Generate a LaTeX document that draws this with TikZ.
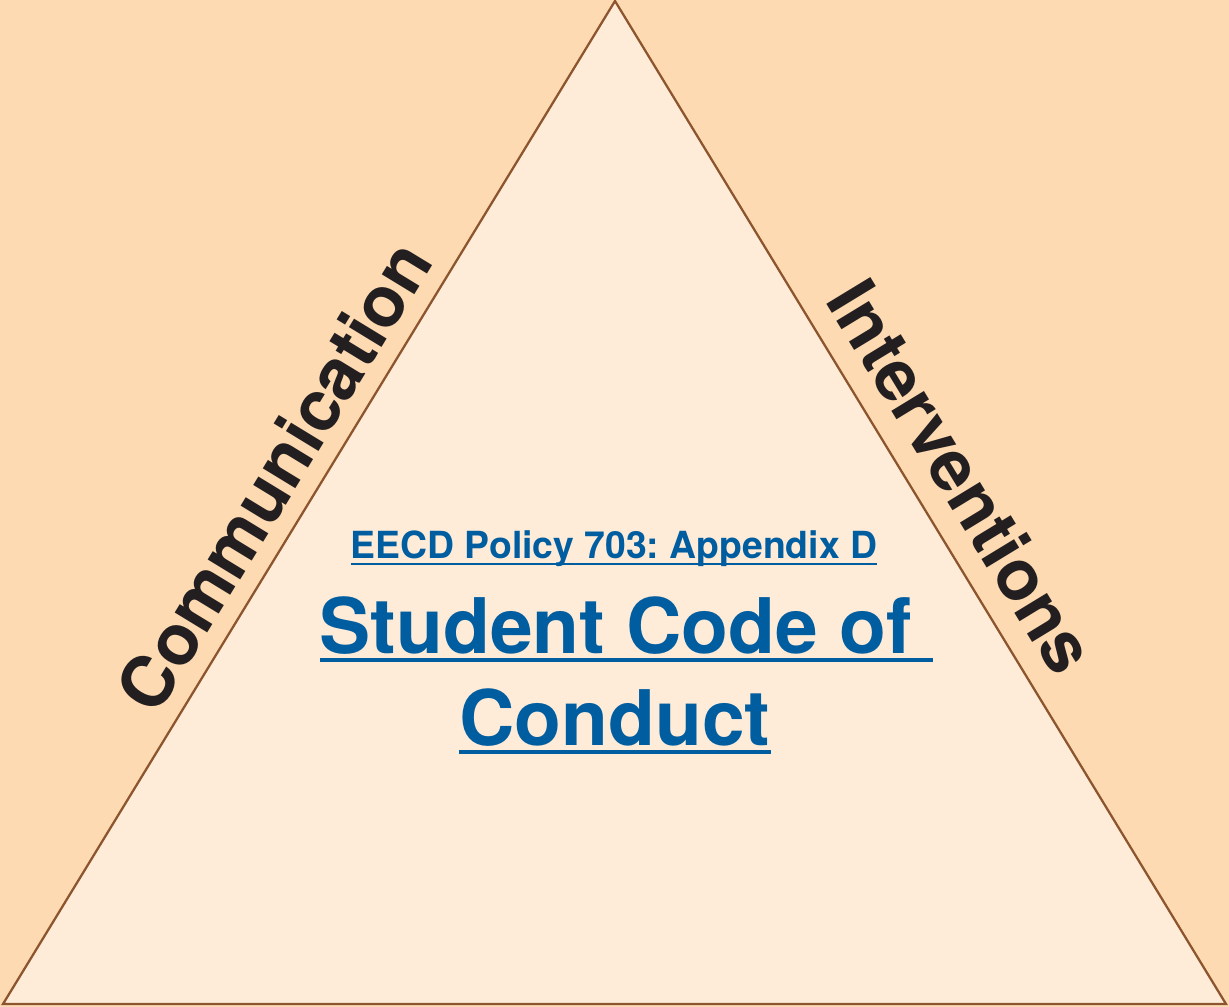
\documentclass[tikz,border=0pt]{standalone}
\usepackage{fontspec}
\setmainfont{TeX Gyre Heros}
\frenchspacing
\definecolor{outerbg}{HTML}{FDDAB2}
\definecolor{innerbg}{HTML}{FEECD9}
\definecolor{edgebrown}{HTML}{8C552D}
\definecolor{linkblue}{HTML}{005DA0}
\definecolor{inkblack}{HTML}{231F20}
\begin{document}
\begin{tikzpicture}[x=0.75pt,y=-0.75pt,
  sidelabel/.style={inner sep=0pt,anchor=base,text=inkblack,font=\fontsize{53}{53}\selectfont\bfseries},
  titleline/.style={inner sep=0pt,anchor=base,text=linkblue,font=\fontsize{57.5}{57.5}\selectfont\bfseries},
  subline/.style={inner sep=0pt,anchor=base,text=linkblue,font=\fontsize{28}{28}\selectfont\bfseries},
  uline/.style={draw=linkblue,line width=#1}]
\fill[outerbg] (0,0) rectangle (1229,1007);
\useasboundingbox (0,0) rectangle (1229,1007);
\coordinate (top) at (615,1);
\coordinate (bl) at (3,1004);
\coordinate (br) at (1226,1004);
\filldraw[fill=innerbg,draw=edgebrown,line width=1.7pt,line join=miter] (top) -- (bl) -- (br) -- cycle;
% side labels
\node[sidelabel,rotate=58.61] (comm) at (295.7,489.2) {Communication};
\node[sidelabel,rotate=-58.65] (interv) at (940,490) {Interventions};
% centre texts
\node[subline] (sub) at (614,558) {EECD Policy 703: Appendix D};
\node[titleline] (t1) at (626.5,653) {Student Code of\kern0.278em};
\node[titleline] (t2) at (615,745) {Conduct};
\draw[uline=1.6pt] ([yshift=-4.5pt]sub.base west) -- ([yshift=-4.5pt]sub.base east);
\draw[uline=2.6pt] ([yshift=-5.2pt]t1.base west) -- ([yshift=-5.2pt]t1.base east);
\draw[uline=2.6pt] ([yshift=-5.2pt]t2.base west) -- ([yshift=-5.2pt]t2.base east);
\end{tikzpicture}
\end{document}
